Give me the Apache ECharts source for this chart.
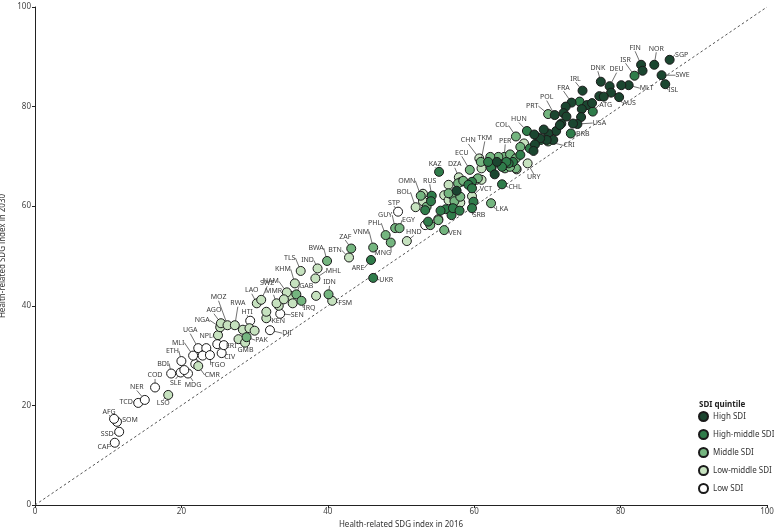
<!DOCTYPE html>
<html>
<head>
<meta charset="utf-8">
<script src="https://cdn.jsdelivr.net/npm/echarts@6/dist/echarts.min.js"></script>
<style>
  html, body { margin: 0; padding: 0; background: #fff; }
  #chart { width: 774px; height: 528px; }
</style>
</head>
<body>
<div id="chart"></div>
<script>
// == data: [country, index 2016, index 2030] ==
const highSDI = [
  ['FIN', 82.8, 88.4], ['', 83.0, 87.2], ['NOR', 84.6, 88.4], ['SGP', 86.7, 89.4],
  ['SWE', 85.6, 86.3], ['ISL', 86.1, 84.5], ['MLT', 81.1, 84.3], ['', 80.1, 84.3],
  ['DNK', 77.3, 85.0], ['DEU', 78.5, 84.1], ['', 78.7, 82.8], ['', 77.1, 82.1],
  ['', 77.7, 82.0], ['AUS', 79.8, 81.9], ['IRL', 74.8, 83.2], ['FRA', 73.3, 80.8],
  ['', 75.4, 80.3], ['', 76.1, 80.7], ['', 74.7, 79.5], ['', 72.5, 80.0],
  ['', 72.2, 78.7], ['POL', 71.0, 78.3], ['', 72.6, 78.0], ['', 74.6, 77.9],
  ['', 71.9, 76.6], ['USA', 74.1, 76.5], ['', 73.5, 76.6], ['', 71.2, 75.1],
  ['', 70.1, 74.6], ['', 69.5, 75.4], ['', 70.8, 73.3], ['', 69.9, 73.3],
  ['', 69.0, 73.6], ['', 68.2, 74.4], ['', 68.3, 72.4], ['', 68.1, 71.1],
  ['', 71.7, 76.3], ['', 63.1, 68.9], ['', 62.8, 66.4], ['', 57.6, 63.1]
];
const highMiddleSDI = [
  ['ISR', 81.9, 86.2], ['', 74.4, 81.0], ['ATG', 76.2, 79.0], ['BRB', 73.2, 74.6],
  ['HUN', 67.2, 75.1], ['', 69.1, 73.3], ['', 68.7, 73.8], ['', 67.6, 71.6],
  ['', 66.3, 70.3], ['', 65.3, 68.9], ['', 64.7, 68.6], ['', 64.4, 68.9],
  ['', 62.3, 67.7], ['', 63.8, 67.9], ['', 61.9, 68.9], ['CHL', 63.8, 64.4],
  ['', 59.7, 64.9], ['', 59.2, 64.3], ['', 59.7, 63.6], ['', 59.9, 60.9],
  ['KAZ', 55.2, 66.9], ['RUS', 54.2, 62.1], ['', 54.1, 61.0], ['', 53.3, 59.2],
  ['', 53.7, 56.9], ['', 56.1, 59.4], ['', 55.4, 59.1], ['', 56.9, 58.2],
  ['', 57.1, 59.6], ['', 58.0, 59.1], ['SRB', 59.7, 59.6], ['ARE', 45.9, 49.2],
  ['UKR', 46.2, 45.6]
];
const middleSDI = [
  ['PRT', 70.1, 78.5], ['COL', 65.7, 74.0], ['CRI', 70.1, 73.0], ['', 66.3, 71.9],
  ['PER', 64.1, 69.9], ['', 64.9, 70.4], ['', 65.7, 69.6], ['', 64.2, 67.6],
  ['', 63.3, 69.9], ['', 65.7, 67.6], ['', 64.9, 67.9], ['', 62.4, 67.9],
  ['', 62.2, 69.9], ['TKM', 60.9, 68.9], ['ECU', 59.4, 67.3], ['', 60.5, 65.6],
  ['', 57.8, 64.6], ['', 57.0, 62.2], ['', 57.3, 61.0], ['', 58.1, 61.9],
  ['', 56.5, 62.6], ['', 53.5, 59.9], ['', 55.1, 57.2], ['', 54.0, 56.2],
  ['VEN', 55.9, 55.2], ['LKA', 62.3, 60.6], ['OMN', 52.7, 62.1], ['ZAF', 43.2, 51.5],
  ['VNM', 46.2, 51.7], ['PHL', 47.9, 54.2], ['MNG', 48.6, 52.7], ['GUY', 49.2, 55.6],
  ['EGY', 49.8, 55.6], ['BWA', 39.9, 49.0], ['IDN', 40.1, 42.3], ['GAB', 35.7, 42.3],
  ['IRQ', 36.4, 41.0], ['PAK', 28.9, 33.7], ['', 58.5, 65.1]
];
const lowMiddleSDI = [
  ['URY', 67.3, 68.6], ['CHN', 60.7, 69.6], ['DZA', 57.9, 65.8], ['VCT', 59.7, 62.0],
  ['', 61.0, 67.6], ['', 60.3, 65.3], ['', 61.0, 65.3], ['', 58.2, 64.9],
  ['', 56.5, 64.3], ['', 55.9, 62.2], ['', 58.1, 60.7], ['', 56.5, 61.2],
  ['BOL', 52.0, 59.8], ['', 53.0, 61.0], ['', 53.0, 62.5], ['', 55.1, 57.4],
  ['', 65.8, 67.4], ['', 66.8, 72.6], ['HND', 50.8, 53.0], ['BTN', 42.9, 49.7],
  ['TLS', 36.3, 47.0], ['IND', 38.6, 47.5], ['MHL', 38.3, 45.5], ['', 38.4, 42.0],
  ['FSM', 40.6, 41.0], ['KHM', 35.5, 44.5], ['', 34.9, 42.0], ['', 35.2, 40.5],
  ['', 33.3, 40.0], ['MMR', 33.0, 40.5], ['NAM', 34.4, 42.7], ['LAO', 30.3, 40.5],
  ['SWZ', 30.9, 41.2], ['KEN', 31.6, 37.5], ['', 31.6, 38.8], ['NPL', 25.0, 34.1],
  ['NGA', 25.3, 35.7], ['AGO', 25.4, 36.5], ['MOZ', 26.3, 36.1], ['RWA', 27.3, 36.1],
  ['GMB', 27.8, 33.3], ['', 28.4, 35.2], ['', 29.3, 35.5], ['', 30.0, 35.0],
  ['', 28.7, 32.6], ['CMR', 22.3, 27.9], ['LSO', 18.2, 22.1], ['', 34.0, 41.3]
];
const lowSDI = [
  ['CAF', 10.9, 12.5], ['SSD', 11.5, 14.7], ['SOM', 11.2, 16.7], ['AFG', 10.8, 17.3],
  ['TCD', 14.1, 20.5], ['NER', 15.0, 21.1], ['COD', 16.4, 23.6], ['BDI', 18.6, 26.4],
  ['SLE', 19.9, 26.6], ['MDG', 20.9, 26.4], ['', 20.4, 27.1], ['ETH', 20.0, 28.9],
  ['', 21.9, 28.3], ['MLI', 21.6, 30.0], ['UGA', 22.3, 31.5], ['', 23.4, 31.5],
  ['', 22.9, 30.0], ['TGO', 23.9, 30.1], ['CIV', 25.5, 30.5], ['ERI', 24.9, 32.3],
  ['', 25.8, 32.1], ['HTI', 29.4, 37.0], ['DJI', 32.1, 35.1], ['SEN', 33.5, 38.4],
  ['STP', 49.6, 58.9], ['', 53.3, 56.2]
];
const axisTicks = [0, 20, 40, 60, 80, 100];
const parity = [[0, 0], [100, 100]];

// == label placement (pixel offset of label centre from its point) ==
const labelOffset = {
  CAF: [-11, 4], SSD: [-12, 2], AFG: [-5, -7], SOM: [13, -2], TCD: [-12, -1], NER: [-8, -13],
  COD: [0, -12], LSO: [-5, 8], BDI: [-8, -10], SLE: [-5, 10], MDG: [5, 11], ETH: [-9, -10],
  CMR: [14, 9], MLI: [-15, -13], UGA: [-8, -18], TGO: [8, 10], CIV: [8, 4], ERI: [14, 2],
  GMB: [7, 11], PAK: [15, 3], DJI: [17, 3], KEN: [12, 3], HTI: [-3, -9], RWA: [3, -22],
  MOZ: [-9, -28], AGO: [-7, -13], NGA: [-18, -7], NPL: [-12, 1], LAO: [-5, -13], SWZ: [6, -17],
  MMR: [-3, -12], NAM: [-16, -11], KHM: [-12, -14], TLS: [-11, -13], IND: [-10, -8],
  BWA: [-11, -13], BTN: [-14, -7], ZAF: [-6, -12], VNM: [-12, -16], PHL: [-11, -12],
  MNG: [-8, 10], GUY: [-10, -13], EGY: [9, -8], HND: [7, -9], STP: [-4, -9], BOL: [-12, -15],
  OMN: [-14, -15], RUS: [-2, -15], ARE: [-13, 8], UKR: [13, 2], MHL: [18, -7], IDN: [1, -12],
  FSM: [13, 2], GAB: [10, -8], IRQ: [8, 7], SEN: [17, 1], VEN: [11, 3], KAZ: [-4, -8],
  DZA: [-4, -13], ECU: [-8, -17], CHN: [-11, -18], TKM: [4, -24], PER: [1, -16],
  COL: [-14, -11], HUN: [-8, -12], CRI: [21, 4], BRB: [12, 1], USA: [22, -1], ATG: [13, -7],
  AUS: [10, 6], MLT: [18, 3], ISL: [8, 6], SWE: [21, 0], SGP: [12, -5], NOR: [2, -16],
  FIN: [-6, -17], ISR: [-9, -16], DEU: [7, -17], DNK: [-3, -14], IRL: [-7, -12],
  FRA: [-8, -15], POL: [-8, -18], PRT: [-16, -8], URY: [6, 14], CHL: [13, 3], LKA: [11, 6],
  SRB: [7, 7], VCT: [14, -7]
};

const groups = [
  { name: 'High SDI', data: highSDI, color: '#1b4630' },
  { name: 'High-middle SDI', data: highMiddleSDI, color: '#2f7c4a' },
  { name: 'Middle SDI', data: middleSDI, color: '#74b57f' },
  { name: 'Low-middle SDI', data: lowMiddleSDI, color: '#c6e2bf' },
  { name: 'Low SDI', data: lowSDI, color: '#ffffff' }
];

const chart = echarts.init(document.getElementById('chart'));
const font = 'Noto Sans';

const scatterSeries = groups.map(function (g, gi) {
  return {
    name: g.name,
    type: 'scatter',
    symbol: 'circle',
    symbolSize: 9,
    z: 10 - gi,
    itemStyle: { color: g.color, borderColor: '#1a1a1a', borderWidth: 1, opacity: 1 },
    data: g.data.map(function (d) {
      return {
        name: d[0],
        value: [d[1], d[2]],
        label: { show: d[0] !== '' }
      };
    }),
    label: {
      show: true,
      position: 'inside',
      formatter: '{b}',
      fontSize: 7,
      fontFamily: font,
      color: '#3a3a3a'
    },
    labelLine: {
      show: true,
      length2: 0,
      lineStyle: { color: '#333', width: 0.7 }
    },
    labelLayout: function (params) {
      const item = g.data[params.dataIndex];
      const o = labelOffset[item[0]] || [0, -10];
      return {
        x: params.rect.x + params.rect.width / 2 + o[0],
        y: params.rect.y + params.rect.height / 2 + o[1],
        align: 'center',
        verticalAlign: 'middle'
      };
    },
    emphasis: { disabled: true }
  };
});

const option = {
  animation: false,
  backgroundColor: '#fff',
  title: {
    text: 'SDI quintile',
    left: 694,
    top: 396,
    textStyle: { fontSize: 8, fontWeight: 'bold', fontFamily: font, color: '#222' }
  },
  legend: {
    orient: 'vertical',
    left: 698,
    top: 411,
    padding: 0,
    itemWidth: 9,
    itemHeight: 9,
    itemGap: 7,
    icon: 'circle',
    textStyle: { fontSize: 8, fontFamily: font, color: '#333' },
    data: groups.map(function (g) { return g.name; })
  },
  grid: { left: 35, right: 7, top: 7, bottom: 23, outerBoundsMode: 'none', containLabel: false },
  xAxis: {
    type: 'value',
    min: 0,
    max: 100,
    interval: 20,
    name: 'Health-related SDG index in 2016',
    nameLocation: 'middle',
    nameGap: 13,
    nameTextStyle: { fontSize: 8, fontFamily: font, color: '#333' },
    axisLine: { lineStyle: { color: '#222', width: 1 } },
    axisTick: { show: true, length: 3, lineStyle: { color: '#222' } },
    axisLabel: {
      fontSize: 8, fontFamily: font, color: '#444', margin: 3,
      formatter: function (v) { return axisTicks.indexOf(v) >= 0 ? String(v) : ''; }
    },
    splitLine: { show: false }
  },
  yAxis: {
    type: 'value',
    min: 0,
    max: 100,
    interval: 20,
    name: 'Health-related SDG index in 2030',
    nameLocation: 'middle',
    nameGap: 26,
    nameTextStyle: { fontSize: 8, fontFamily: font, color: '#333' },
    axisLine: { show: true, lineStyle: { color: '#222', width: 1 } },
    axisTick: { show: true, length: 3, lineStyle: { color: '#222' } },
    axisLabel: {
      fontSize: 8, fontFamily: font, color: '#444', margin: 4,
      formatter: function (v) { return axisTicks.indexOf(v) >= 0 ? String(v) : ''; }
    },
    splitLine: { show: false }
  },
  series: [
    {
      type: 'line',
      data: parity,
      symbol: 'none',
      silent: true,
      z: 1,
      lineStyle: { color: '#555', width: 1, type: [2.5, 2.5] },
      legendHoverLink: false
    }
  ].concat(scatterSeries)
};

option && chart.setOption(option);
</script>
</body>
</html>
